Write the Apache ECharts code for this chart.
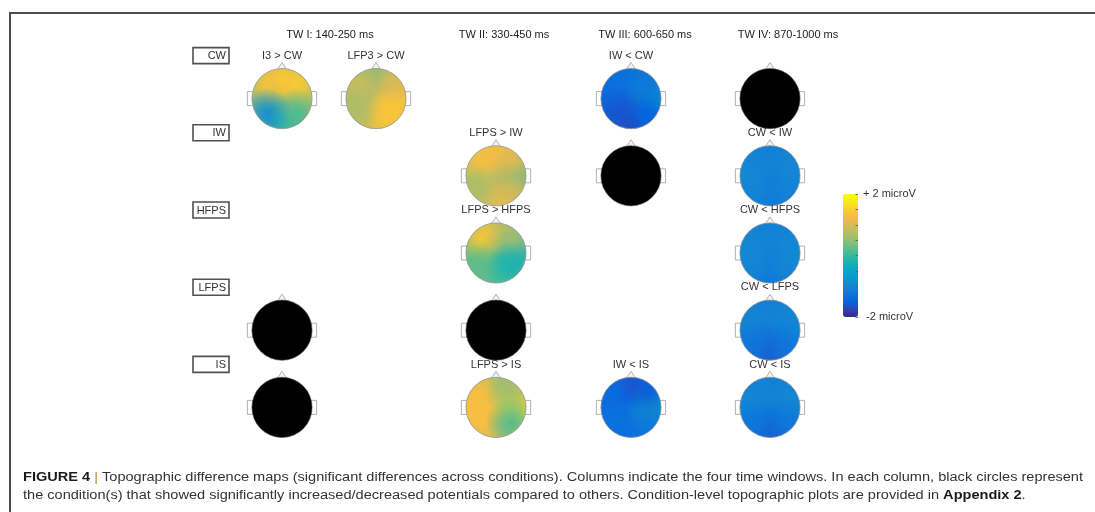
<!DOCTYPE html>
<html>
<head>
<meta charset="utf-8">
<script src="https://cdn.jsdelivr.net/npm/echarts@6/dist/echarts.min.js"></script>
<style>
  html, body { margin: 0; padding: 0; background: #fff; }
  #chart { width: 1095px; height: 512px; }
</style>
</head>
<body>
<div id="chart"></div>
<script>
// ---- data ---------------------------------------------------------------
const timeWindows = ['TW I: 140-250 ms', 'TW II: 330-450 ms', 'TW III: 600-650 ms', 'TW IV: 870-1000 ms'];
const slotsPerWindow = [2, 1, 1, 1];
const conditions = ['CW', 'IW', 'HFPS', 'LFPS', 'IS'];
// scalp regions, in drawing order
const scalpZones = ['C', 'F', 'B', 'L', 'R', 'FL', 'FR', 'BL', 'BR'];

const contrastLabels = ['I3 > CW', 'LFP3 > CW', 'LFPS > IW', 'LFPS > HFPS', 'LFPS > IS',
                        'IW < CW', 'IW < IS', 'CW < IW', 'CW < HFPS', 'CW < LFPS', 'CW < IS'];
const contrastWindow = [0, 0, 1, 1, 1, 2, 2, 3, 3, 3, 3];
const contrastSlot   = [0, 1, 0, 0, 0, 0, 0, 0, 0, 0, 0];
const contrastRow    = ['CW', 'CW', 'IW', 'HFPS', 'IS', 'CW', 'IS', 'IW', 'HFPS', 'LFPS', 'IS'];
// difference amplitude (microV) per scalp region, order of scalpZones
const contrastValues = [
  [ 1.0,  1.35, -0.4,  0.4,  0.8,  1.35, 1.45, -0.9,  0.1],  // I3 > CW
  [ 1.3,  0.1,  1.35, 0.5,  1.3,  0.9,  1.0,  0.7,  1.4],   // LFP3 > CW
  [ 1.4,  1.3,  1.2,  0.5, -0.1,  1.3,  1.1,  0.7,  1.0],   // LFPS > IW
  [ 0.3,  1.1,  0.1,  0.2, -0.4,  1.4,  0.6,  0.2, -0.2],   // LFPS > HFPS
  [ 1.4,  0.4,  0.9,  1.3,  1.6,  1.3,  0.6,  1.3,  0.1],   // LFPS > IS
  [-1.7, -1.3, -1.85, -1.4, -0.6, -1.3, -1.2, -1.6, -1.5],  // IW < CW
  [-1.45, -1.75, -1.4, -1.35, -0.4, -1.4, -1.55, -1.3, -1.2], // IW < IS
  [-1.5, -1.2, -1.3, -0.9, -0.9, -1.0, -1.0, -1.0, -1.05],  // CW < IW
  [-1.45, -1.15, -1.4, -0.9, -0.85, -1.0, -1.0, -1.0, -1.0], // CW < HFPS
  [-1.55, -1.15, -1.7, -1.0, -0.9, -1.0, -1.0, -1.25, -1.25], // CW < LFPS
  [-1.45, -1.15, -1.65, -0.9, -0.85, -1.0, -1.0, -1.25, -1.25] // CW < IS
];

// conditions that differ significantly from all others (drawn as black heads)
const sigWindow = [0, 0, 1, 2, 3];
const sigSlot   = [0, 0, 0, 0, 0];
const sigRow    = ['LFPS', 'IS', 'LFPS', 'IW', 'CW'];

const colorbarMin = -2;
const colorbarMax = 2;
const colorbarLabels = { '2': '+ 2 microV', '-2': ' -2 microV' };

const captionLine1 = ' Topographic difference maps (significant differences across conditions). Columns indicate the four time windows. In each column, black circles represent';
const captionLine2 = 'the condition(s) that showed significantly increased/decreased potentials compared to others. Condition-level topographic plots are provided in ';

// ---- styling ------------------------------------------------------------
const FONT = '"Liberation Sans", Arial, Helvetica, sans-serif';
const CAP_FONT = '"Liberation Sans Narrow", "Liberation Sans", Arial, sans-serif';
// parula colour map
const PARULA = ['#352a87', '#3243ba', '#0363e1', '#0d75dc', '#1485d4', '#0998d1', '#06a7c6', '#15b1b4',
                '#38b99e', '#65be86', '#92bf73', '#b7bd64', '#d9ba56', '#f8ba44', '#fcce2e', '#f5eb18', '#f9fb0e'];
const ZONE_OFFSET = {
  C: [0, 0], F: [0, -0.62], B: [0, 0.62], L: [-0.62, 0], R: [0.62, 0],
  FL: [-0.5, -0.5], FR: [0.5, -0.5], BL: [-0.5, 0.5], BR: [0.5, 0.5]
};
const windowCenters = [329, 496, 631, 770];   // centre of each time-window column
const titleCenters = [330, 504, 645, 788];
const SLOT_W = 94;
const GRID_TOP = 60, GRID_H = 386;

// ---- helpers ------------------------------------------------------------
function headGeom(api) {
  const c = api.coord([api.value(0), api.value(1)]);
  const band = api.size([0, 1]);
  return { cx: c[0], cy: c[1], r: band[1] * 0.39, band: band[1] };
}

function earsAndNose(cx, cy, r) {
  const st = { fill: '#fff', stroke: '#a0a0a0', lineWidth: 0.8 };
  return [
    { type: 'rect', shape: { x: cx - r - 4.5, y: cy - 7, width: 6, height: 14 }, style: st },
    { type: 'rect', shape: { x: cx + r - 1.5, y: cy - 7, width: 6, height: 14 }, style: st },
    { type: 'polygon', shape: { points: [[cx - 6, cy - r + 3], [cx, cy - r - 6], [cx + 6, cy - r + 3]] },
      style: { fill: '#f2f2f2', stroke: '#a0a0a0', lineWidth: 0.8 } }
  ];
}

function renderBase(params, api) {
  const g = headGeom(api);
  return {
    type: 'group',
    children: earsAndNose(g.cx, g.cy, g.r).concat([
      { type: 'circle', shape: { cx: g.cx, cy: g.cy, r: g.r }, style: { fill: api.visual('color') } }
    ])
  };
}

function renderZone(params, api) {
  const g = headGeom(api);
  const off = ZONE_OFFSET[scalpZones[api.value(3)]];
  const c = api.visual('color');
  const grad = new echarts.graphic.RadialGradient(0.5, 0.5, 0.5, [
    { offset: 0, color: echarts.color.modifyAlpha(c, 0.95) },
    { offset: 0.4, color: echarts.color.modifyAlpha(c, 0.65) },
    { offset: 1, color: echarts.color.modifyAlpha(c, 0) }
  ]);
  return {
    type: 'circle',
    shape: { cx: g.cx + off[0] * g.r, cy: g.cy + off[1] * g.r, r: g.r * 0.85 },
    style: { fill: grad },
    clipPath: { type: 'circle', shape: { cx: g.cx, cy: g.cy, r: g.r } }
  };
}

function renderOutline(params, api) {
  const g = headGeom(api);
  return {
    type: 'group',
    children: [
      { type: 'circle', shape: { cx: g.cx, cy: g.cy, r: g.r },
        style: { fill: 'none', stroke: '#9a9a9a', lineWidth: 0.8 } },
      { type: 'text', x: g.cx, y: g.cy - g.band * 0.555,
        style: { text: contrastLabels[api.value(2)], align: 'center', verticalAlign: 'middle',
                 fontSize: 11, fontFamily: FONT, fill: '#333' } }
    ]
  };
}

function renderSig(params, api) {
  const g = headGeom(api);
  return {
    type: 'group',
    children: earsAndNose(g.cx, g.cy, g.r).concat([
      { type: 'circle', shape: { cx: g.cx, cy: g.cy, r: g.r }, style: { fill: '#000', stroke: '#555', lineWidth: 0.6 } }
    ])
  };
}

// ---- option -------------------------------------------------------------
const grids = [], xAxes = [], yAxes = [], series = [], mappedSeries = [];

timeWindows.forEach((tw, w) => {
  const width = SLOT_W * slotsPerWindow[w];
  grids.push({ left: windowCenters[w] - width / 2, top: GRID_TOP, width: width, height: GRID_H });
  xAxes.push({ gridIndex: w, type: 'category', show: false,
               data: Array.from({ length: slotsPerWindow[w] }, (_, i) => String(i)) });
  yAxes.push({
    gridIndex: w, type: 'category', data: conditions, inverse: true, show: w === 0,
    axisLine: { show: false }, axisTick: { show: false }, splitLine: { show: false },
    axisLabel: {
      margin: 6,
      formatter: v => '{box|' + v + '}\n{gap| }',
      rich: {
        box: { width: 30, align: 'right', padding: [3, 3, 2, 3], borderColor: '#505050', borderWidth: 1.6,
               fontSize: 11, lineHeight: 13, color: '#333', fontFamily: FONT },
        gap: { lineHeight: 86, fontSize: 2 }
      }
    }
  });

  const heads = [], zones = [], outlines = [];
  contrastLabels.forEach((lab, i) => {
    if (contrastWindow[i] !== w) return;
    const row = conditions.indexOf(contrastRow[i]);
    const vals = contrastValues[i];
    const mean = vals.reduce((a, b) => a + b, 0) / vals.length;
    heads.push([contrastSlot[i], row, mean]);
    vals.forEach((v, k) => zones.push([contrastSlot[i], row, v, k]));
    outlines.push([contrastSlot[i], row, i]);
  });
  const sig = [];
  sigWindow.forEach((sw, j) => {
    if (sw === w) sig.push([sigSlot[j], conditions.indexOf(sigRow[j])]);
  });

  const common = { type: 'custom', xAxisIndex: w, yAxisIndex: w, silent: true, animation: false };
  mappedSeries.push(series.length);
  series.push(Object.assign({ name: tw + ' maps', z: 2, renderItem: renderBase, data: heads }, common));
  mappedSeries.push(series.length);
  series.push(Object.assign({ name: tw + ' regions', z: 3, renderItem: renderZone, data: zones }, common));
  series.push(Object.assign({ name: tw + ' outlines', z: 4, renderItem: renderOutline, data: outlines }, common));
  series.push(Object.assign({ name: tw + ' significant', z: 2, renderItem: renderSig, data: sig }, common));
});

// colour bar tick axis
grids.push({ left: 843, top: 194, width: 15, height: 123 });
xAxes.push({ gridIndex: 4, type: 'value', show: false, min: 0, max: 1 });
yAxes.push({
  gridIndex: 4, type: 'value', position: 'right', min: colorbarMin, max: colorbarMax, interval: 0.5, z: 10,
  axisLine: { show: false, onZero: false }, splitLine: { show: false },
  axisTick: { inside: true, length: 2.5, lineStyle: { color: '#555', width: 0.8 } },
  axisLabel: { margin: 5, fontSize: 11, color: '#333', fontFamily: FONT,
               showMinLabel: true, showMaxLabel: true,
               formatter: v => colorbarLabels[String(v)] || '' }
});

// caption width fitting (condensed journal font)
const measureCtx = document.createElement('canvas').getContext('2d');
function measure(text, weight) {
  measureCtx.font = weight + ' 12.5px ' + CAP_FONT;
  return measureCtx.measureText(text).width;
}
const line1W = measure('FIGURE 4 ', 'bold') + measure('|' + captionLine1, 'normal');
const capScale = 1060 / line1W;
const capRich = {
  b: { fontWeight: 'bold', fontSize: 12.5, fontFamily: CAP_FONT, fill: '#1a1a1a' },
  p: { fontSize: 12.5, fontFamily: CAP_FONT, fill: '#b58a2c' },
  t: { fontSize: 12.5, fontFamily: CAP_FONT, fill: '#333' }
};

const graphic = [
  { type: 'line', shape: { x1: 10, y1: 13, x2: 1095, y2: 13 }, style: { stroke: '#4d4d4d', lineWidth: 2 } },
  { type: 'line', shape: { x1: 10, y1: 12, x2: 10, y2: 512 }, style: { stroke: '#4d4d4d', lineWidth: 2 } },
  {
    type: 'group', x: 23, y: 0, scaleX: capScale,
    children: [
      { type: 'text', x: 0, y: 478,
        style: { text: '{b|FIGURE 4 }{p||}{t|' + captionLine1 + '}', rich: capRich, verticalAlign: 'middle',
                 fontSize: 12.5, fontFamily: CAP_FONT, fill: '#333' } },
      { type: 'text', x: 0, y: 496,
        style: { text: '{t|' + captionLine2 + '}{b|Appendix 2}{t|.}', rich: capRich, verticalAlign: 'middle',
                 fontSize: 12.5, fontFamily: CAP_FONT, fill: '#333' } }
    ]
  }
];
timeWindows.forEach((tw, w) => {
  graphic.push({ type: 'text', x: titleCenters[w], y: 35,
                 style: { text: tw, align: 'center', verticalAlign: 'middle', fontSize: 11,
                          fontFamily: FONT, fill: '#222' } });
});

const option = {
  backgroundColor: '#fff',
  animation: false,
  grid: grids,
  xAxis: xAxes,
  yAxis: yAxes,
  visualMap: {
    type: 'continuous', min: colorbarMin, max: colorbarMax, dimension: 2,
    seriesIndex: mappedSeries, calculable: false, hoverLink: false,
    left: 828, top: 179, itemWidth: 15, itemHeight: 123,
    inRange: { color: PARULA }
  },
  series: series,
  graphic: graphic
};

const chart = echarts.init(document.getElementById('chart'), null, { renderer: 'canvas' });
chart.setOption(option);
</script>
</body>
</html>
